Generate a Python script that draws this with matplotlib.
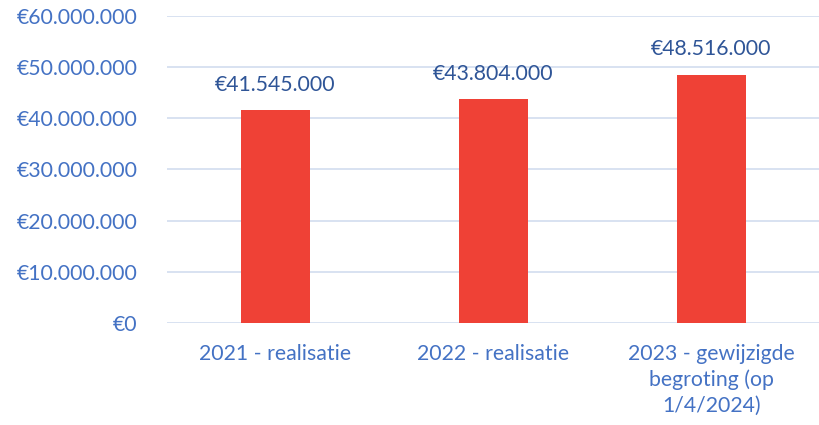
import matplotlib.pyplot as plt
from matplotlib.ticker import FuncFormatter

categories = ['2021 - realisatie', '2022 - realisatie',
              '2023 - gewijzigde\nbegroting (op\n1/4/2024)']
values = [41545000, 43804000, 48516000]
yticks = [0, 10000000, 20000000, 30000000, 40000000, 50000000, 60000000]

bar_color = '#EF4136'
tick_color = '#4472C4'
label_color = '#2F5597'
grid_color = '#D6DFF0'


def euro(v, pos=None):
    return '€' + '{:,.0f}'.format(v).replace(',', '.')


plt.rcParams['font.family'] = ['Lato', 'DejaVu Sans']

fig = plt.figure(figsize=(8.19, 4.25), dpi=100)
ax = fig.add_axes([0.2033, 0.24, 0.7985, 0.7224])

x = range(len(categories))
bars = ax.bar(x, values, width=0.317, color=bar_color, zorder=3)

for i, v in enumerate(values):
    ax.annotate(euro(v), (i, v), xytext=(0, 11), textcoords='offset points',
                ha='center', va='bottom', color=label_color, fontsize=15.3)

ax.set_ylim(0, 60000000)
ax.set_xlim(-0.5, len(categories) - 0.5)
ax.set_yticks(yticks)
ax.yaxis.set_major_formatter(FuncFormatter(euro))
ax.set_xticks(list(x))
ax.set_xticklabels(categories, linespacing=1.35)

ax.grid(axis='y', color=grid_color, linewidth=1.3, zorder=0)
for s in ax.spines.values():
    s.set_visible(False)
ax.tick_params(axis='both', length=0, colors=tick_color, labelsize=15.3)
ax.tick_params(axis='y', pad=21)
ax.tick_params(axis='x', pad=15)

fig.savefig('out.png', dpi=100)
